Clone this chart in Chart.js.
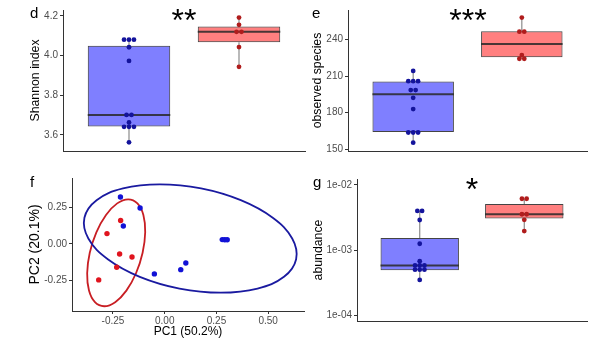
<!DOCTYPE html>
<html>
<head>
<meta charset="utf-8">
<script src="https://cdn.jsdelivr.net/npm/chart.js@4.4.1/dist/chart.umd.min.js"></script>
<style>
body { margin: 0; background: #fff; width: 599px; height: 347px; position: relative; overflow: hidden; font-family: "Liberation Sans", Arial, sans-serif; }
canvas { position: absolute; }
.lab { position: absolute; line-height: 1; color: #000; white-space: nowrap; }
.star { position: absolute; line-height: 1; color: #000; font-size: 32px; transform: translateX(-50%); }
</style>
</head>
<body>
<canvas id="d"></canvas>
<canvas id="e"></canvas>
<canvas id="f"></canvas>
<canvas id="g"></canvas>
<div class="lab" style="left:30px;top:5px;font-size:15px">d</div>
<div class="lab" style="left:312px;top:5px;font-size:15px">e</div>
<div class="lab" style="left:30px;top:174px;font-size:15px">f</div>
<div class="lab" style="left:313px;top:174px;font-size:15px">g</div>
<div class="star" style="left:184px;top:4px">**</div>
<div class="star" style="left:468px;top:4px">***</div>
<div class="star" style="left:472px;top:173px">*</div>
<script>
// two groups, drawn at x = 1 and x = 2
const groups = ['blue', 'red'];

// d: Shannon index
const shannonBlue = [4.08, 4.08, 4.08, 4.042, 3.973, 3.70, 3.70, 3.662, 3.64, 3.64, 3.64, 3.562];
const shannonRed = [4.192, 4.155, 4.12, 4.12, 4.043, 3.943];
// [low whisker, q1, median, q3, high whisker]
const shannonBoxBlue = [3.562, 3.642, 3.70, 4.05, 4.08];
const shannonBoxRed = [3.943, 4.067, 4.12, 4.147, 4.192];
const shannonTicks = [3.6, 3.8, 4.0, 4.2];
const shannonLabels = ['3.6', '3.8', '4.0', '4.2'];

// e: observed species
const speciesBlue = [214.3, 205.9, 205.9, 205.9, 198.6, 198.6, 192.2, 183, 163.8, 163.8, 163.8, 155.4];
const speciesRed = [258.1, 246.5, 246.5, 227.3, 224.3, 224.3];
const speciesBoxBlue = [155.4, 164.1, 195.1, 205.7, 214.3];
const speciesBoxRed = [224.3, 225.6, 236.5, 246.8, 258.1];
const speciesTicks = [150, 180, 210, 240];
const speciesLabels = ['150', '180', '210', '240'];

// g: abundance (log)
const abundBlue = [4.0e-3, 4.0e-3, 2.91e-3, 1.26e-3, 6.8e-4, 5.85e-4, 5.85e-4, 5.85e-4, 5.05e-4, 5.05e-4, 5.05e-4, 3.52e-4];
const abundRed = [6.15e-3, 6.15e-3, 3.56e-3, 3.56e-3, 2.93e-3, 1.97e-3];
const abundBoxBlue = [3.52e-4, 4.93e-4, 5.85e-4, 1.54e-3, 4.0e-3];
const abundBoxRed = [1.97e-3, 3.06e-3, 3.56e-3, 5.11e-3, 6.15e-3];
const abundTicks = [1e-4, 1e-3, 1e-2];
const abundLabels = ['1e-04', '1e-03', '1e-02'];

// f: PCA
const pcaBlueX = [-0.214, -0.119, -0.200, -0.050, 0.0775, 0.102, 0.278, 0.290, 0.302];
const pcaBlueY = [0.320, 0.245, 0.123, -0.204, -0.175, -0.130, 0.030, 0.029, 0.029];
const pcaRedX = [-0.213, -0.279, -0.218, -0.158, -0.232, -0.319];
const pcaRedY = [0.160, 0.071, -0.068, -0.089, -0.159, -0.245];
// ellipse outlines
const ellBlueX = [-0.0241, 0.1756, 0.3674, 0.5220, 0.6160, 0.6350, 0.5762, 0.4484, 0.2711, 0.0714, -0.1204, -0.2750, -0.3690, -0.3880, -0.3292, -0.2014];
const ellBlueY = [0.407, 0.3789, 0.2988, 0.1789, 0.0375, -0.1039, -0.2238, -0.3039, -0.332, -0.3039, -0.2238, -0.1039, 0.0375, 0.1789, 0.2988, 0.3789];
const ellRedX = [-0.1764, -0.1319, -0.1031, -0.0943, -0.1068, -0.1387, -0.1853, -0.2393, -0.2926, -0.3371, -0.3659, -0.3747, -0.3622, -0.3303, -0.2837, -0.2297];
const ellRedY = [0.3047, 0.2769, 0.1979, 0.0796, -0.060, -0.1996, -0.3179, -0.3969, -0.4247, -0.3969, -0.3179, -0.1996, -0.060, 0.0796, 0.1979, 0.2769];
const pcaXTicks = [-0.25, 0, 0.25, 0.5];
const pcaXLabels = ['-0.25', '0.00', '0.25', '0.50'];
const pcaYTicks = [-0.25, 0, 0.25];
const pcaYLabels = ['-0.25', '0.00', '0.25'];

Chart.defaults.font.family = '"Liberation Sans", Arial, sans-serif';
Chart.defaults.animation = false;
Chart.defaults.plugins.legend.display = false;
Chart.defaults.plugins.tooltip.enabled = false;

const AXIS = '#333';
const BOX_FILL = ['rgba(0,0,255,0.5)', 'rgba(255,0,0,0.5)'];
const DOT = ['#14149c', '#b01c1c'];

// put canvas so that the plot area lands on L,T,R,B of the page
function place(id, L, T, R, B, yw, xh) {
    const c = document.getElementById(id);
    const left = L - yw, top = T - 4;
    c.style.left = left + 'px';
    c.style.top = top + 'px';
    c.width = R - left + 4;
    c.height = B - top + xh;
    return left;
}

// no extra room for labels hanging over the plot edges
function noPad(s) {
    s.paddingTop = 0; s.paddingBottom = 0; s.paddingLeft = 0; s.paddingRight = 0;
}

function yAxis(type, range, ticks, labels, title, size, titleX, left, yw) {
    return {
        type: type, min: range[0], max: range[1],
        afterBuildTicks: s => { s.ticks = ticks.map(v => ({ value: v })); },
        afterFit: s => { s.width = yw; noPad(s); },
        ticks: { callback: (v, i) => labels[i], color: '#4d4d4d', font: { size: 10 }, padding: 2, autoSkip: false },
        grid: { drawOnChartArea: false, tickLength: 3, tickColor: AXIS },
        border: { color: AXIS, width: 1 },
        title: { display: true, text: title, color: '#000', font: { size: size }, padding: { top: titleX - left - size * 0.6, bottom: 0 } }
    };
}

// dots of one group stacked sideways when values repeat
function stack(vals, x) {
    const count = {}, seen = {};
    vals.forEach(v => count[v] = (count[v] || 0) + 1);
    return vals.map(v => {
        seen[v] = (seen[v] || 0) + 1;
        return { x: x + (seen[v] - 1 - (count[v] - 1) / 2) * 0.045, y: v };
    });
}

function boxChart(id, L, T, R, B, yw, type, range, ticks, labels, title, titleX, stats, points) {
    const left = place(id, L, T, R, B, yw, 2);
    const whisk = [], med = [], boxes = [];
    stats.forEach((s, i) => {
        const x = i + 1;
        whisk.push({ x, y: s[0] }, { x, y: s[1] }, { x, y: null }, { x, y: s[3] }, { x, y: s[4] }, { x, y: null });
        med.push({ x: x - 0.375, y: s[2] }, { x: x + 0.375, y: s[2] }, { x, y: null });
        boxes.push({ x, y: [s[1], s[3]] });
    });
    const datasets = [
        { type: 'line', data: whisk, borderColor: '#8c8c8c', borderWidth: 1.2, pointRadius: 0, showLine: true, spanGaps: false, order: 3 },
        { type: 'bar', data: boxes, backgroundColor: BOX_FILL, borderColor: '#444', borderWidth: 1, borderSkipped: false,
          categoryPercentage: 1, barPercentage: 0.75, order: 2 },
        { type: 'line', data: med, borderColor: 'rgba(40,40,40,0.85)', borderWidth: 2, pointRadius: 0, showLine: true, spanGaps: false, order: 1 }
    ];
    points.forEach((p, i) => datasets.push({
        type: 'scatter', data: stack(p, i + 1), backgroundColor: DOT[i], borderWidth: 0, pointRadius: 2.4, order: 0
    }));
    new Chart(document.getElementById(id), {
        type: 'scatter',
        data: { datasets },
        options: {
            responsive: false, devicePixelRatio: 1,
            layout: { padding: { top: 4, right: 4, left: 0, bottom: 0 } },
            scales: {
                x: {
                    type: 'linear', min: 0.4, max: 2.6, offset: false,
                    afterBuildTicks: s => { s.ticks = groups.map((g, i) => ({ value: i + 1 })); },
                    afterFit: s => { s.height = 2; noPad(s); },
                    ticks: { display: false }, grid: { display: false },
                    border: { color: AXIS, width: 1 }
                },
                y: yAxis(type, range, ticks, labels, title, 12.3, titleX, left, yw)
            }
        }
    });
}

boxChart('d', 63, 10, 305, 153, 63, 'linear', [3.518, 4.23], shannonTicks, shannonLabels, 'Shannon index', 36,
    [shannonBoxBlue, shannonBoxRed], [shannonBlue, shannonRed]);
boxChart('e', 348, 10, 587, 153, 50, 'linear', [148.6, 264.3], speciesTicks, speciesLabels, 'observed species', 318,
    [speciesBoxBlue, speciesBoxRed], [speciesBlue, speciesRed]);
boxChart('g', 357, 179, 587, 323, 60, 'logarithmic', [8.28e-5, 1.233e-2], abundTicks, abundLabels, 'abundance', 319,
    [abundBoxBlue, abundBoxRed], [abundBlue, abundRed]);

// closed ellipse: wrap one point on each side so the curve has no kink, hide the wrap segments
function ellipse(xs, ys, color) {
    const pts = xs.map((x, i) => ({ x, y: ys[i] }));
    const n = pts.length;
    return {
        type: 'line', data: [pts[n - 1], ...pts, pts[0], pts[1]], borderColor: color, borderWidth: 1.8,
        tension: 0.4, pointRadius: 0, showLine: true, fill: false,
        segment: { borderColor: c => (c.p0DataIndex === 0 || c.p0DataIndex === n + 1) ? 'rgba(0,0,0,0)' : color }
    };
}

const fLeft = place('f', 72, 178, 304, 311, 50, 28);
new Chart(document.getElementById('f'), {
    type: 'scatter',
    data: {
        datasets: [
            { data: pcaBlueX.map((x, i) => ({ x, y: pcaBlueY[i] })), backgroundColor: '#1212d6', borderWidth: 0, pointRadius: 2.7 },
            { data: pcaRedX.map((x, i) => ({ x, y: pcaRedY[i] })), backgroundColor: '#e0141e', borderWidth: 0, pointRadius: 2.7 },
            ellipse(ellBlueX, ellBlueY, '#1a1aa0'),
            ellipse(ellRedX, ellRedY, '#c81e23')
        ]
    },
    options: {
        responsive: false, devicePixelRatio: 1,
        layout: { padding: { top: 4, right: 4, left: 0, bottom: 0 } },
        scales: {
            x: {
                type: 'linear', min: -0.448, max: 0.673,
                afterBuildTicks: s => { s.ticks = pcaXTicks.map(v => ({ value: v })); },
                afterFit: s => { s.height = 28; noPad(s); },
                ticks: { callback: (v, i) => pcaXLabels[i], color: '#4d4d4d', font: { size: 10 }, padding: 1, autoSkip: false, maxRotation: 0 },
                grid: { drawOnChartArea: false, tickLength: 3, tickColor: AXIS },
                border: { color: AXIS, width: 1 },
                title: { display: true, text: 'PC1 (50.2%)', color: '#000', font: { size: 12 }, padding: { top: 0, bottom: 0 } }
            },
            y: yAxis('linear', [-0.457, 0.45], pcaYTicks, pcaYLabels, 'PC2 (20.1%)', 14, 35, fLeft, 50)
        }
    }
});
</script>
</body>
</html>
